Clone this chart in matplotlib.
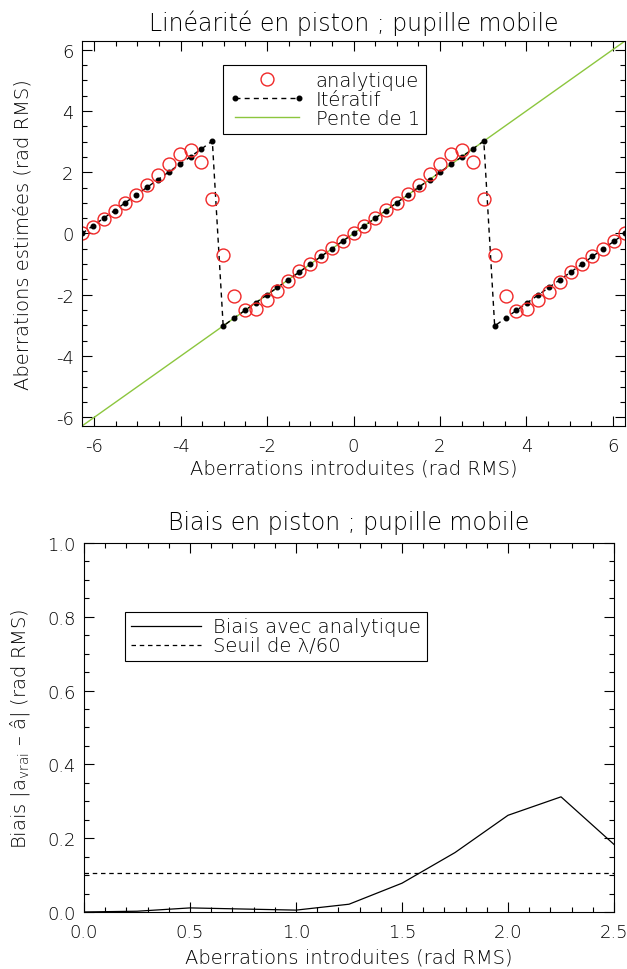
"""Linéarité et biais en piston, pupille mobile (deux panneaux)."""

import matplotlib

matplotlib.use("Agg")
import matplotlib.pyplot as plt
import numpy as np
from matplotlib.legend_handler import HandlerLine2D
from matplotlib.ticker import FormatStrFormatter, MultipleLocator

# introduced piston, 51 samples over [-2pi, 2pi]
PISTON_IN = np.linspace(-2 * np.pi, 2 * np.pi, 51)

ITERATIF = [
    0.00, 0.25, 0.50, 0.75, 1.01, 1.26, 1.51, 1.76, 2.01, 2.26, 2.51, 2.76, 3.02,
    -3.02, -2.76, -2.51, -2.26, -2.01, -1.76, -1.51, -1.26, -1.01, -0.75, -0.50, -0.25,
    0.00, 0.25, 0.50, 0.75, 1.01, 1.26, 1.51, 1.76, 2.01, 2.26, 2.51, 2.76, 3.02,
    -3.02, -2.76, -2.51, -2.26, -2.01, -1.76, -1.51, -1.26, -1.01, -0.75, -0.50, -0.25, 0.00,
]

ANALYTIQUE = [
    0.00, 0.22, 0.47, 0.73, 1.00, 1.26, 1.57, 1.91, 2.27, 2.58, 2.73, 2.34, 1.12,
    -0.70, -2.05, -2.51, -2.45, -2.17, -1.89, -1.56, -1.24, -0.98, -0.72, -0.47, -0.24,
    0.00, 0.24, 0.50, 0.76, 1.01, 1.28, 1.59, 1.93, 2.28, 2.60, 2.71, 2.35, 1.12,
    -0.70, -2.05, -2.52, -2.47, -2.17, -1.90, -1.57, -1.25, -0.99, -0.73, -0.50, -0.23, 0.00,
]

BIAS_X = [0.0, 0.25, 0.5, 0.75, 1.0, 1.25, 1.5, 1.75, 2.0, 2.25, 2.5]
BIAS_Y = [0.0, 0.002, 0.011, 0.008, 0.005, 0.021, 0.078, 0.161, 0.262, 0.312, 0.183]
SEUIL = 0.105  # lambda/60 en rad

RED = "#f02828"
GREEN = "#8cc63e"

plt.rcParams["font.family"] = ["DejaVu Sans"]
plt.rcParams["font.weight"] = "light"
plt.rcParams["axes.titleweight"] = "light"
plt.rcParams["axes.labelweight"] = "light"
plt.rcParams["axes.unicode_minus"] = False
plt.rcParams["mathtext.fontset"] = "custom"
plt.rcParams["mathtext.rm"] = "DejaVu Sans:light"
plt.rcParams["mathtext.it"] = "DejaVu Sans:light"


def style_axes(ax, major_x, minor_x, major_y, minor_y):
    ax.xaxis.set_major_locator(MultipleLocator(major_x))
    ax.xaxis.set_minor_locator(MultipleLocator(minor_x))
    ax.yaxis.set_major_locator(MultipleLocator(major_y))
    ax.yaxis.set_minor_locator(MultipleLocator(minor_y))
    ax.tick_params(which="both", direction="in", top=True, right=True,
                   labelsize=13, width=0.8)
    ax.tick_params(axis="x", pad=8)
    ax.tick_params(axis="y", pad=6)
    ax.tick_params(which="major", length=7.5)
    ax.tick_params(which="minor", length=3.8)
    for spine in ax.spines.values():
        spine.set_linewidth(0.8)


fig = plt.figure(figsize=(6.27, 9.70), dpi=100)

# top panel: linearity
ax1 = fig.add_axes([0.1308, 0.5598, 0.866, 0.3969])
(pente,) = ax1.plot(PISTON_IN, PISTON_IN, color=GREEN, lw=1.0, label="Pente de 1")
(iter_line,) = ax1.plot(PISTON_IN, ITERATIF, color="black", lw=1.0, ls=(0, (3.6, 3.0)),
                        marker="o", ms=3.3, label="Itératif")
(ana,) = ax1.plot(PISTON_IN, ANALYTIQUE, ls="none", marker="o", ms=9.3,
                  mfc="none", mec=RED, mew=1.0, label="analytique")
ax1.set_xlim(-2 * np.pi, 2 * np.pi)
ax1.set_ylim(-2 * np.pi, 2 * np.pi)
style_axes(ax1, 2, 0.5, 2, 0.5)
ax1.set_title("Linéarité en piston ; pupille mobile", fontsize=17, pad=8)
ax1.set_xlabel("Aberrations introduites (rad RMS)", fontsize=14)
ax1.set_ylabel("Aberrations estimées (rad RMS)", fontsize=14)
ax1.xaxis.set_label_coords(0.5, -0.085)
ax1.yaxis.set_label_coords(-0.092, 0.5)
leg1 = ax1.legend(
    handles=[ana, iter_line, pente],
    loc="upper left", bbox_to_anchor=(0.26, 0.938), borderaxespad=0,
    fontsize=14, frameon=True, fancybox=False, framealpha=1, edgecolor="black",
    handlelength=3.9, handletextpad=0.55, labelspacing=0.0, borderpad=0.3,
    numpoints=2, handler_map={ana: HandlerLine2D(numpoints=1)},
)
leg1.get_frame().set_linewidth(0.8)

# bottom panel: bias
ax2 = fig.add_axes([0.134, 0.0588, 0.8453, 0.3804])
(biais,) = ax2.plot(BIAS_X, BIAS_Y, color="black", lw=0.9, label="Biais avec analytique")
seuil = ax2.axhline(SEUIL, color="black", lw=0.9, ls=(0, (3.6, 3.0)), label="Seuil de λ/60")
ax2.set_xlim(0, 2.5)
ax2.set_ylim(0, 1.0)
style_axes(ax2, 0.5, 0.1, 0.2, 0.05)
ax2.xaxis.set_major_formatter(FormatStrFormatter("%.1f"))
ax2.yaxis.set_major_formatter(FormatStrFormatter("%.1f"))
ax2.set_title("Biais en piston ; pupille mobile", fontsize=17, pad=10)
ax2.set_xlabel("Aberrations introduites (rad RMS)", fontsize=14)
ax2.set_ylabel(r"Biais |a$_{\rm vrai}$ – â| (rad RMS)", fontsize=14)
ax2.xaxis.set_label_coords(0.5, -0.095)
ax2.yaxis.set_label_coords(-0.098, 0.5)
leg2 = ax2.legend(
    handles=[biais, seuil],
    loc="upper left", bbox_to_anchor=(0.077, 0.814), borderaxespad=0,
    fontsize=14, frameon=True, fancybox=False, framealpha=1, edgecolor="black",
    handlelength=3.6, handletextpad=0.65, labelspacing=0.0, borderpad=0.3,
)
leg2.get_frame().set_linewidth(0.8)

fig.savefig("out.png", dpi=100)
